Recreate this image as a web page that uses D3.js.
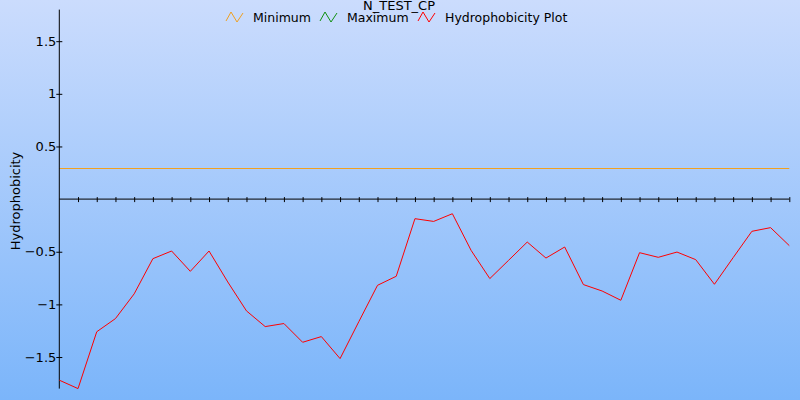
<!DOCTYPE html>
<html><head><meta charset="utf-8">
<script src="https://cdn.jsdelivr.net/npm/d3@7"></script>
<style>body{margin:0;} svg{display:block;font-family:"DejaVu Sans",sans-serif;}</style>
</head><body>
<svg id="c" width="800" height="400"></svg>
<script>
const title = "N_TEST_CP";
const yLabel = "Hydrophobicity";
const positions = d3.range(0, 40);
const hydro = [-1.72,-1.80,-1.26,-1.135,-0.90,-0.566,-0.493,-0.686,-0.493,-0.787,
  -1.062,-1.211,-1.182,-1.36,-1.306,-1.515,-1.165,-0.819,-0.733,-0.186,
  -0.212,-0.139,-0.487,-0.755,-0.582,-0.408,-0.56,-0.455,-0.812,-0.873,
  -0.961,-0.509,-0.553,-0.503,-0.575,-0.809,-0.556,-0.306,-0.271,-0.442];
const minimumValue = 0.3;
const yTicks = [-1.5,-1,-0.5,0.5,1,1.5];
const legendItems = ["Minimum","Maximum","Hydrophobicity Plot"];
const legendColors = ["#f0a020","#109010","#ff0000"];

const svg = d3.select("#c");
const defs = svg.append("defs");
const g = defs.append("linearGradient").attr("id","bg").attr("x1",0).attr("y1",0).attr("x2",0).attr("y2",1);
g.append("stop").attr("offset","0%").attr("stop-color","#cbdcfd");
g.append("stop").attr("offset","100%").attr("stop-color","#7bb5fa");
svg.append("rect").attr("width",800).attr("height",400).attr("fill","url(#bg)");

const x = d3.scaleLinear().domain([0,39]).range([59.3,789.3]);
const y = d3.scaleLinear().domain([-1.8,1.8]).range([388.6,9.6]);

// minimum line
svg.append("line").attr("x1",x(0)).attr("x2",x(39)).attr("y1",Math.round(y(minimumValue))+0.5).attr("y2",Math.round(y(minimumValue))+0.5)
  .attr("stroke","#f0a020").attr("stroke-width",1);

// y axis
const yAxis = svg.append("g").attr("transform",`translate(${x(0)},0)`)
  .call(d3.axisLeft(y).tickValues(yTicks).tickSize(3).tickFormat(d3.format("")));
yAxis.select(".domain").attr("d",`M0,${y.range()[0]}V${y.range()[1]}`).attr("stroke","#000");
yAxis.selectAll(".tick line").attr("x2",3).attr("x1",-3);
yAxis.selectAll(".tick text").attr("x",-3).attr("font-size",13).attr("font-family","DejaVu Sans").attr("fill","#000");

// x axis at zero
const xAxis = svg.append("g").attr("transform",`translate(0,${y(0)})`)
  .call(d3.axisBottom(x).tickValues(positions.slice(1)).tickSize(3).tickFormat(""));
xAxis.select(".domain").attr("d",`M${x.range()[0]},0H${x.range()[1]}`).attr("stroke","#000");
xAxis.selectAll(".tick line").attr("y1",-2).attr("y2",3);

// hydrophobicity line
const line = d3.line().x((d,i)=>x(positions[i])).y(d=>y(d));
svg.append("path").datum(hydro).attr("d",line).attr("fill","none").attr("stroke","#ff0000").attr("stroke-width",1);

// title
svg.append("text").attr("x",399).attr("y",10).attr("text-anchor","middle").attr("font-size",13).attr("fill","#000").text(title);

// y label
svg.append("text").attr("transform","translate(20,201) rotate(-90)").attr("text-anchor","middle").attr("font-size",13).attr("fill","#000").text(yLabel);

// legend
const legX = [226,320,418];
legendItems.forEach((t,i)=>{
  const lx = legX[i];
  svg.append("path").attr("d",`M${lx},21L${lx+5},12L${lx+11},22L${lx+17},13`).attr("fill","none").attr("stroke",legendColors[i]).attr("stroke-width",1);
  svg.append("text").attr("x",lx+27).attr("y",22).attr("font-size",12.5).attr("fill","#000").text(t);
});
</script>
</body></html>
